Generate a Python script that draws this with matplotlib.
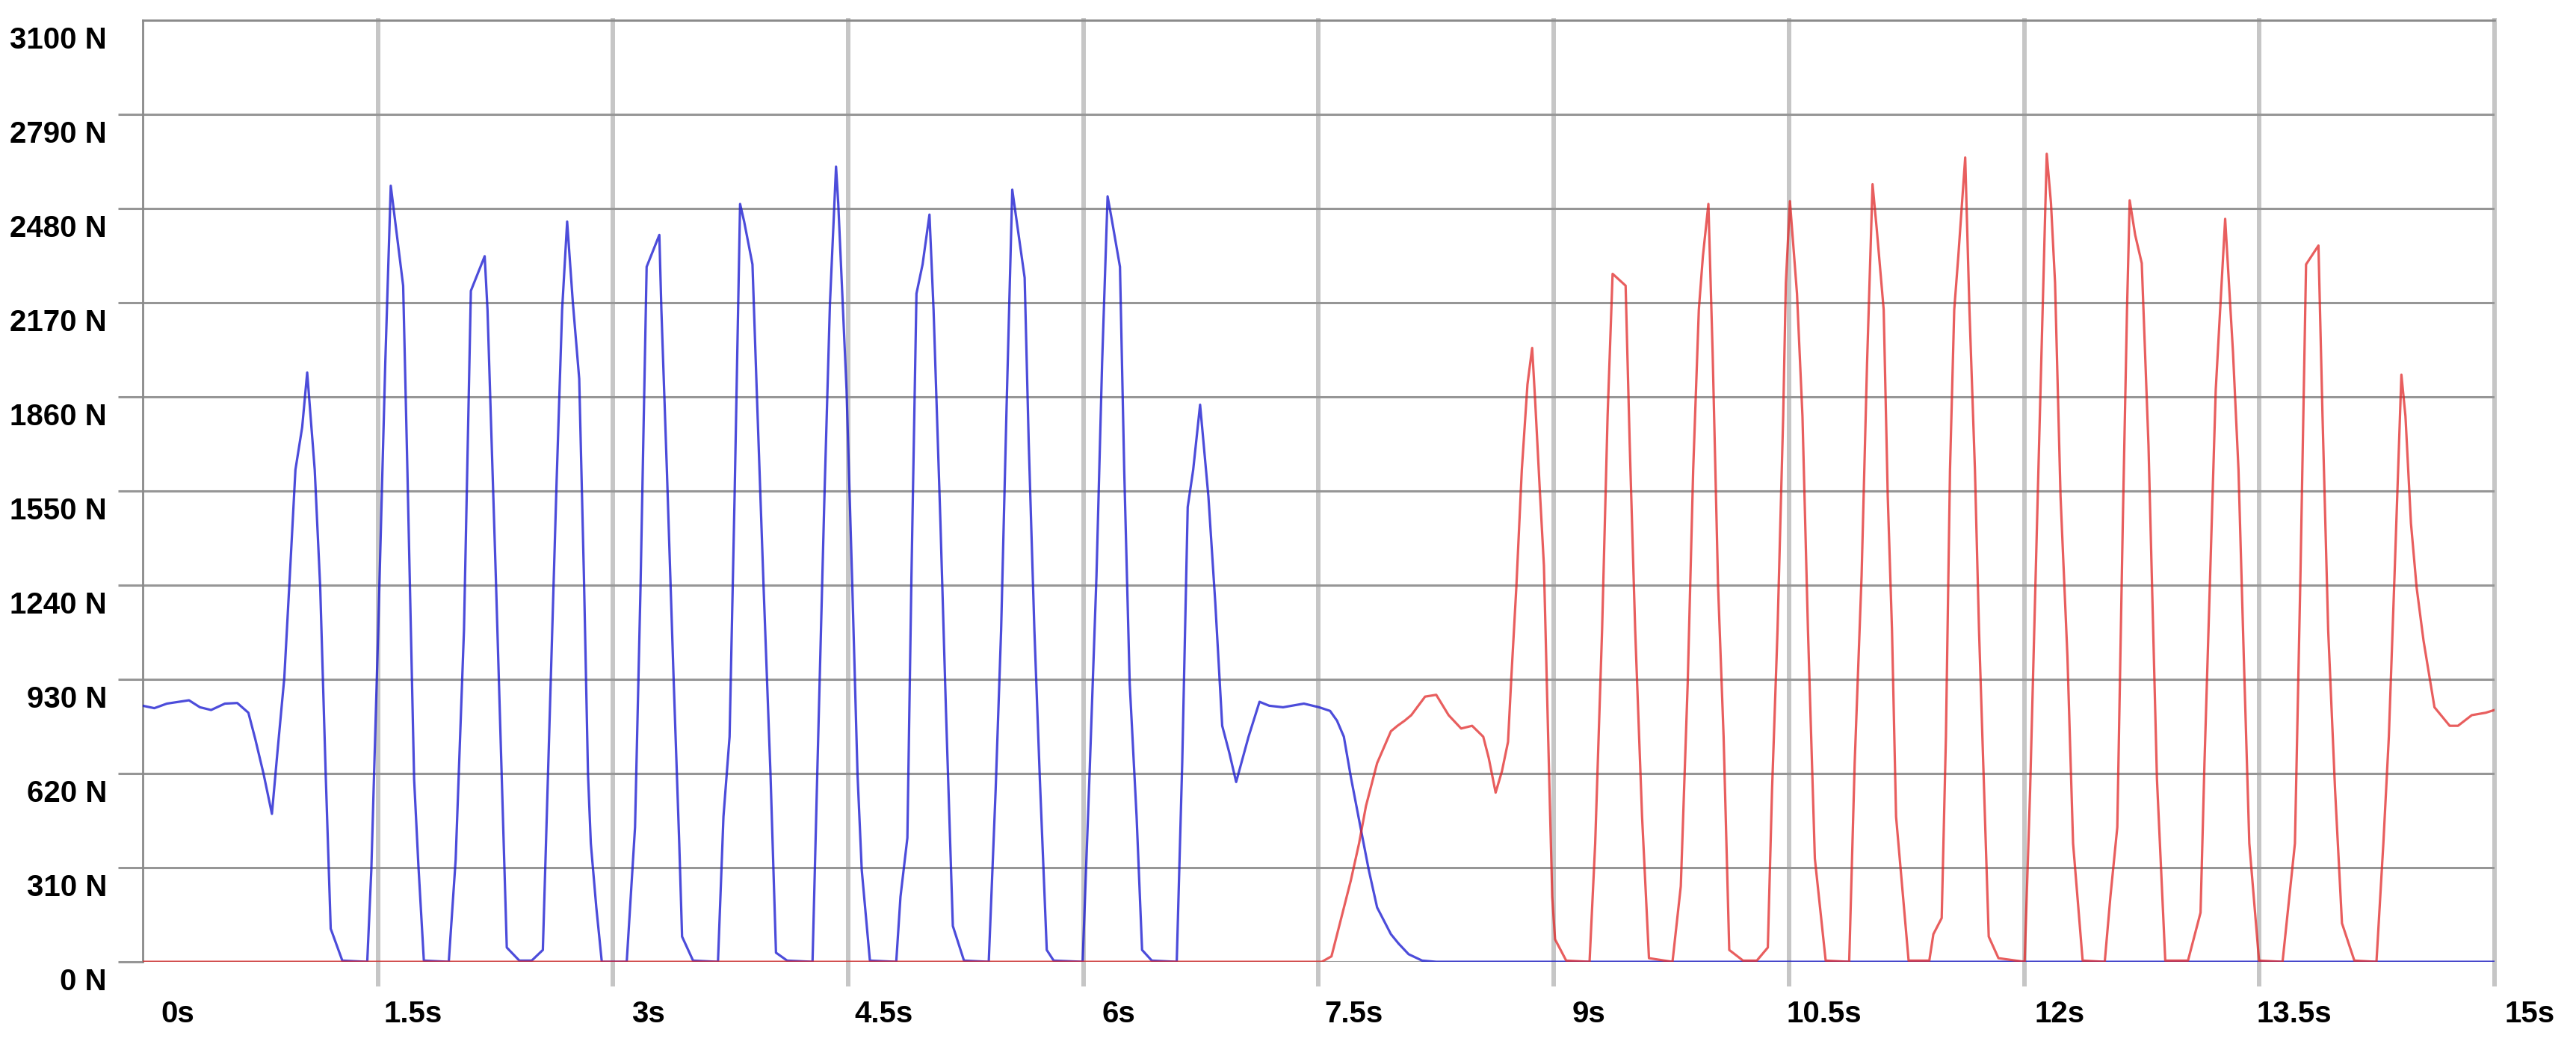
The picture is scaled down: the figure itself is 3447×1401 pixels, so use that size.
import numpy as np
import matplotlib.pyplot as plt
from matplotlib.transforms import ScaledTranslation

plt.rcParams['font.family'] = ['Liberation Sans', 'DejaVu Sans']

# blue series (left side), time in s, force in N
blue_t = [0, 0.074, 0.154, 0.295, 0.365, 0.436, 0.524, 0.603, 0.674, 0.718,
          0.771, 0.824, 0.859, 0.903, 0.938, 0.974, 1.017, 1.049, 1.097, 1.132,
          1.167, 1.199, 1.273, 1.432, 1.458, 1.502, 1.547, 1.582, 1.608, 1.661,
          1.688, 1.731, 1.758, 1.793, 1.952, 1.996, 2.049, 2.093, 2.181, 2.199,
          2.252, 2.287, 2.322, 2.402, 2.481, 2.552, 2.587, 2.640, 2.675, 2.707,
          2.743, 2.784, 2.814, 2.840, 2.858, 2.893, 2.928, 3.087, 3.140, 3.175,
          3.214, 3.295, 3.308, 3.343, 3.387, 3.422, 3.440, 3.510, 3.669, 3.704,
          3.743, 3.775, 3.810, 3.836, 3.889, 3.916, 3.960, 4.004, 4.039, 4.110,
          4.272, 4.304, 4.348, 4.383, 4.422, 4.436, 4.489, 4.524, 4.559, 4.586,
          4.638, 4.806, 4.833, 4.877, 4.903, 4.935, 4.974, 5.018, 5.044, 5.088,
          5.123, 5.167, 5.238, 5.396, 5.440, 5.475, 5.510, 5.546, 5.572, 5.625,
          5.651, 5.687, 5.722, 5.766, 5.810, 5.995, 6.039, 6.083, 6.119, 6.154,
          6.180, 6.233, 6.260, 6.295, 6.339, 6.374, 6.436, 6.595, 6.630, 6.665,
          6.700, 6.744, 6.797, 6.841, 6.885, 6.930, 6.974, 7.053, 7.123, 7.185,
          7.273, 7.406, 7.503, 7.573, 7.617, 7.661, 7.705, 7.767, 7.820, 7.873,
          7.961, 8.010, 8.074, 8.160, 8.250, 15.0]
blue_n = [843, 835, 850, 861, 838, 829, 850, 852, 820, 733,
          618, 487, 689, 935, 1269, 1620, 1760, 1940, 1620, 1233,
          618, 109, 4, 0, 302, 1093, 1971, 2555, 2446, 2226,
          1620, 601, 320, 4, 0, 337, 1093, 2209, 2323, 2147,
          1269, 654, 47, 4, 4, 39, 654, 1585, 2147, 2437,
          2173, 1919, 1269, 618, 390, 179, 0, 0, 443, 1233,
          2288, 2393, 2147, 1620, 917, 390, 83, 4, 0, 478,
          741, 1532, 2495, 2437, 2296, 1884, 1233, 618, 30, 4,
          0, 654, 1532, 2165, 2618, 2498, 1884, 1269, 618, 302,
          4, 0, 214, 408, 1269, 2200, 2296, 2460, 2147, 1444,
          829, 118, 4, 0, 566, 1093, 1831, 2542, 2446, 2252,
          1708, 1093, 601, 39, 4, 0, 618, 1269, 1971, 2520,
          2446, 2288, 1620, 917, 478, 39, 4, 0, 654, 1497,
          1620, 1834, 1532, 1181, 777, 689, 592, 741, 856, 843,
          838, 850, 838, 826, 794, 741, 610, 443, 302, 179,
          91, 60, 25, 4, 0, 0]

# red series (right side)
red_t = [0, 7.520, 7.582, 7.644, 7.705, 7.758, 7.802, 7.873, 7.961, 8.003,
         8.049, 8.091, 8.179, 8.250, 8.329, 8.409, 8.479, 8.550, 8.585, 8.629,
         8.669, 8.708, 8.729, 8.761, 8.796, 8.832, 8.862, 8.881, 8.911, 8.937,
         8.964, 8.990, 9.008, 9.079, 9.228, 9.264, 9.308, 9.343, 9.375, 9.458,
         9.484, 9.519, 9.563, 9.607, 9.757, 9.810, 9.854, 9.889, 9.925, 9.951,
         9.986, 10.013, 10.048, 10.083, 10.119, 10.207, 10.295, 10.365, 10.392, 10.427,
         10.463, 10.480, 10.506, 10.551, 10.586, 10.621, 10.665, 10.734, 10.884, 10.919,
         10.963, 10.998, 11.033, 11.060, 11.104, 11.130, 11.157, 11.183, 11.263, 11.395,
         11.421, 11.474, 11.501, 11.527, 11.554, 11.580, 11.624, 11.651, 11.686, 11.712,
         11.739, 11.774, 11.836, 12.003, 12.038, 12.082, 12.109, 12.144, 12.171, 12.197,
         12.232, 12.276, 12.312, 12.373, 12.514, 12.550, 12.594, 12.629, 12.656, 12.673,
         12.708, 12.750, 12.793, 12.847, 12.900, 13.045, 13.125, 13.150, 13.186, 13.222,
         13.282, 13.332, 13.367, 13.401, 13.436, 13.498, 13.648, 13.727, 13.762, 13.798,
         13.877, 13.903, 13.939, 13.983, 14.027, 14.106, 14.247, 14.291, 14.326, 14.362,
         14.406, 14.432, 14.467, 14.503, 14.547, 14.617, 14.714, 14.767, 14.855, 14.944,
         15.0]
red_n = [0, 0, 18, 144, 267, 390, 513, 654, 759, 777,
         794, 812, 873, 879, 812, 768, 777, 741, 671, 557,
         627, 724, 935, 1233, 1620, 1901, 2021, 1848, 1550, 1304,
         741, 214, 74, 4, 0, 390, 1093, 1796, 2265, 2226,
         1708, 1093, 478, 12, 0, 249, 917, 1620, 2147, 2323,
         2495, 2006, 1233, 741, 39, 4, 4, 47, 566, 1093,
         1796, 2235, 2504, 2200, 1796, 1093, 340, 4, 0, 654,
         1269, 1971, 2560, 2411, 2147, 1532, 1093, 478, 4, 4,
         91, 144, 741, 1620, 2147, 2323, 2648, 2147, 1620, 1093,
         654, 83, 12, 0, 566, 1444, 1971, 2660, 2498, 2235,
         1532, 1005, 390, 4, 0, 214, 443, 1444, 2147, 2507,
         2393, 2300, 1700, 601, 4, 4, 162, 654, 1269, 1884,
         2446, 2006, 1620, 1000, 390, 4, 0, 390, 1269, 2296,
         2358, 1796, 1093, 566, 127, 4, 0, 390, 741, 1269,
         1933, 1796, 1444, 1233, 1058, 838, 777, 777, 812, 820,
         829]

y_ticks = [0, 310, 620, 930, 1240, 1550, 1860, 2170, 2480, 2790, 3100]
x_ticks = [0, 1.5, 3, 4.5, 6, 7.5, 9, 10.5, 12, 13.5, 15]
x_labels = ['0s', '1.5s', '3s', '4.5s', '6s', '7.5s', '9s', '10.5s', '12s', '13.5s', '15s']

fig = plt.figure(figsize=(34.48, 14.01), dpi=100)
ax = fig.add_axes([0.05539, 0.08137, 0.91270, 0.89936])

ax.plot(blue_t, blue_n, color='#1a1ad0', alpha=0.78, lw=2.3, zorder=3)
ax.plot(red_t, red_n, color='#e02020', alpha=0.72, lw=2.3, zorder=4)

ax.set_xlim(0, 15)
ax.set_ylim(0, 3100)
ax.set_xticks(x_ticks)
ax.set_xticklabels(x_labels)
ax.set_yticks(y_ticks)
ax.set_yticklabels([f'{v} N' for v in y_ticks])

ax.set_axisbelow(True)
ax.xaxis.grid(True, color='#c6c6c6', lw=4.3)
ax.yaxis.grid(True, color='#969696', lw=2.2)
for gl in ax.get_xgridlines():
    gl.set_clip_on(False)
ax.get_xgridlines()[0].set_visible(False)

for side in ['right', 'bottom']:
    ax.spines[side].set_visible(False)
for side in ['left', 'top']:
    ax.spines[side].set_color('#8a8a8a')
    ax.spines[side].set_linewidth(2.0)

ax.tick_params(axis='x', length=23.8, width=4.3, color='#c6c6c6', pad=13,
               labelsize=29)
ax.tick_params(axis='y', length=23.8, width=2.2, color='#969696', pad=10.8,
               labelsize=29)
ax.xaxis.get_major_ticks()[0].tick1line.set_visible(False)
ax.yaxis.get_major_ticks()[-1].tick1line.set_visible(False)

# labels sit a bit right of / below their grid lines
for lab in ax.get_xticklabels():
    lab.set_fontweight('bold')
    lab.set_transform(lab.get_transform() + ScaledTranslation(0.47, 0, fig.dpi_scale_trans))
for lab in ax.get_yticklabels():
    lab.set_fontweight('bold')
    lab.set_transform(lab.get_transform() + ScaledTranslation(0, -0.23, fig.dpi_scale_trans))

fig.savefig('out.png', dpi=100)
